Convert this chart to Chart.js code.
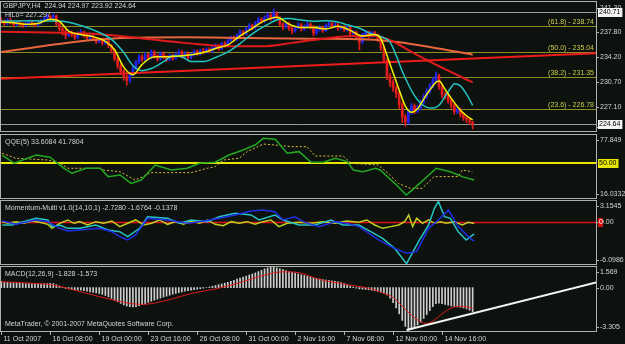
<!DOCTYPE html>
<html>
<head>
<meta charset="utf-8">
<script src="https://cdn.jsdelivr.net/npm/chart.js@4.4.0/dist/chart.umd.min.js"></script>
<style>
  html, body { margin: 0; padding: 0; background: #0e120e; }
  #wrap { position: relative; width: 625px; height: 344px; overflow: hidden; background: #0e120e; }
  canvas { position: absolute; left: 0; }
</style>
</head>
<body>
<div id="wrap">
  <canvas id="mainChart" width="625" height="134" style="top:0px"></canvas>
  <canvas id="qqeChart" width="625" height="66" style="top:134px"></canvas>
  <canvas id="momChart" width="625" height="66" style="top:200px"></canvas>
  <canvas id="macdChart" width="625" height="78" style="top:266px"></canvas>
</div>
<script>
const FONT = '7px "Liberation Sans", Arial, sans-serif';
const BG = '#0e120e';
const FRAME = '#b0b0b0';
const TEXT = '#d4d4d4';
const UP = '#2424f0';
const DOWN = '#e41c1c';

// time axis (bar index -> label)
const timeTicks = [0, 16, 32, 48, 64, 80, 96, 112, 128, 144];
const timeLabels = ['11 Oct 2007', '16 Oct 08:00', '19 Oct 00:00', '23 Oct 16:00', '26 Oct 08:00',
  '31 Oct 00:00', '2 Nov 16:00', '7 Nov 08:00', '12 Nov 00:00', '14 Nov 16:00'];

// GBPJPY H4 candles
const opens = [
  239.6,239.4,239.1,239.6,239.2,238.9,239.3,239.0,238.8,239.1,239.3,239.0,238.9,239.2,239.5,239.8,240.1,239.9,240.2,239.0,
  238.3,238.0,237.4,237.8,237.5,237.1,237.6,237.9,237.4,237.0,237.3,236.9,236.5,236.8,236.3,236.6,235.9,235.2,234.0,233.0,
  232.2,231.4,230.9,231.8,232.6,233.6,234.3,233.9,234.6,234.2,235.0,234.4,234.0,234.8,234.3,233.9,234.5,234.1,234.7,235.0,
  234.4,234.8,234.2,234.6,235.1,234.7,235.2,235.0,235.4,235.1,235.6,235.9,235.5,236.2,236.0,236.6,237.0,236.8,237.4,237.9,
  237.6,238.3,238.8,238.5,239.2,239.7,239.4,240.0,240.3,239.8,240.6,239.9,239.0,238.6,239.1,238.4,238.0,238.5,238.9,238.3,
  238.7,239.0,238.6,237.7,238.2,238.5,238.1,238.8,239.1,238.7,238.9,238.4,238.6,238.2,238.5,237.6,237.9,237.2,236.4,237.5,
  237.9,237.3,237.8,237.4,236.9,235.6,233.8,231.5,230.6,229.8,229.0,227.4,225.6,224.9,226.4,227.2,226.5,226.9,227.8,228.6,
  229.3,230.1,230.9,231.6,230.0,228.9,228.6,228.0,227.3,226.4,226.7,226.0,225.5,225.3,224.94];
const highs = [
  239.9,239.6,239.8,239.9,239.4,239.5,239.5,239.2,239.3,239.6,239.5,239.2,239.4,239.7,240.0,240.4,240.3,240.5,240.3,239.2,
  238.6,238.2,238.1,238.0,237.7,237.9,238.2,238.0,237.6,237.5,237.5,237.1,237.0,237.0,236.9,236.8,236.1,235.4,234.3,233.3,
  232.5,231.7,232.1,232.9,233.8,234.6,234.6,234.9,234.8,235.3,235.2,234.6,235.0,235.0,234.5,234.7,234.7,234.9,235.3,235.2,
  235.0,235.0,234.8,235.3,235.3,235.4,235.5,235.6,235.6,235.8,236.2,236.1,236.4,236.5,236.9,237.3,237.3,237.6,238.2,238.1,
  238.5,239.1,239.0,239.4,240.0,239.9,240.2,240.6,240.5,241.2,240.8,240.1,239.2,239.3,239.3,238.6,238.7,239.2,239.1,238.9,
  239.3,239.2,238.8,238.4,238.8,238.7,239.0,239.4,239.3,239.2,239.1,238.8,238.8,238.7,238.6,238.1,238.0,237.4,237.7,238.1,
  238.0,238.0,238.0,237.6,237.1,235.8,234.0,231.9,231.0,230.1,229.3,227.7,226.0,226.7,227.6,227.5,227.3,228.1,228.9,229.7,
  230.4,231.3,232.1,231.8,230.3,229.2,228.9,228.3,227.5,227.0,226.9,226.2,225.7,225.5,224.97];
const lows = [
  239.1,238.8,238.9,239.0,238.6,238.7,238.8,238.5,238.6,238.9,238.8,238.6,238.7,239.0,239.3,239.6,239.7,239.7,238.8,238.0,
  237.4,236.9,237.2,237.2,236.8,236.9,237.4,237.1,236.7,236.8,236.6,236.2,236.3,236.0,236.1,235.6,234.8,233.7,232.6,231.7,
  230.9,230.2,230.6,231.5,232.4,233.3,233.6,233.7,233.9,234.0,234.1,233.7,233.8,234.0,233.6,233.7,233.8,233.9,234.5,234.1,
  234.2,233.9,234.0,234.4,234.5,234.5,234.7,234.8,234.9,234.9,235.4,235.2,235.3,235.7,235.8,236.4,236.5,236.6,237.2,237.3,
  237.4,238.1,238.2,238.3,239.0,239.1,239.2,239.8,239.5,239.6,239.6,238.7,238.2,238.4,238.1,237.6,237.8,238.3,238.0,238.1,
  238.5,238.3,237.3,237.5,238.0,237.8,237.9,238.6,238.4,238.5,238.1,238.2,237.9,238.0,237.3,237.4,236.9,235.3,236.2,237.3,
  237.0,237.1,237.2,236.5,235.2,233.4,231.0,230.0,229.3,228.4,226.8,224.8,224.3,224.6,226.0,226.1,226.2,226.7,227.5,228.3,
  229.0,229.8,230.6,229.6,228.4,228.2,227.6,226.9,226.0,226.1,225.6,225.1,224.8,224.5,223.92];
const closes = [
  239.4,239.1,239.6,239.2,238.9,239.3,239.0,238.8,239.1,239.3,239.0,238.9,239.2,239.5,239.8,240.1,239.9,240.2,239.0,238.3,
  238.0,237.4,237.8,237.5,237.1,237.6,237.9,237.4,237.0,237.3,236.9,236.5,236.8,236.3,236.6,235.9,235.2,234.0,233.0,232.2,
  231.4,230.9,231.8,232.6,233.6,234.3,233.9,234.6,234.2,235.0,234.4,234.0,234.8,234.3,233.9,234.5,234.1,234.7,235.0,234.4,
  234.8,234.2,234.6,235.1,234.7,235.2,235.0,235.4,235.1,235.6,235.9,235.5,236.2,236.0,236.6,237.0,236.8,237.4,237.9,237.6,
  238.3,238.8,238.5,239.2,239.7,239.4,240.0,240.3,239.8,240.6,239.9,239.0,238.6,239.1,238.4,238.0,238.5,238.9,238.3,238.7,
  239.0,238.6,237.7,238.2,238.5,238.1,238.8,239.1,238.7,238.9,238.4,238.6,238.2,238.5,237.6,237.9,237.2,236.4,237.5,237.9,
  237.3,237.8,237.4,236.9,235.6,233.8,231.5,230.6,229.8,229.0,227.4,225.6,224.9,226.4,227.2,226.5,226.9,227.8,228.6,229.3,
  230.1,230.9,231.6,230.0,228.9,228.6,228.0,227.3,226.4,226.7,226.0,225.5,225.3,224.9,224.64];

// moving averages on the price chart: [bar, price]
const maFast = [[0,239.3],[4,239.2],[8,239.0],[12,239.1],[16,239.7],[19,239.4],[22,238.0],[26,237.5],[30,237.2],[34,236.5],
  [37,235.3],[40,232.8],[43,231.7],[46,233.2],[50,234.3],[54,234.3],[58,234.4],[62,234.6],[66,234.9],[70,235.5],[74,236.0],
  [78,237.3],[82,238.4],[86,239.5],[90,240.0],[94,239.0],[98,238.5],[102,238.5],[106,238.3],[110,238.7],[114,238.1],
  [118,237.3],[122,237.5],[124,236.9],[126,234.5],[128,232.0],[130,229.5],[132,227.2],[134,226.3],[136,226.8],[138,228.2],
  [140,229.5],[142,230.6],[143,230.8],[145,229.6],[147,228.3],[150,226.6],[152,225.8],[154,225.2]];
const maMid = [[0,239.4],[10,239.5],[20,239.4],[26,238.8],[32,237.8],[36,236.8],[40,234.9],[43,233.0],[46,232.3],[49,232.6],
  [53,233.6],[56,234.4],[59,234.3],[62,233.6],[66,233.6],[70,234.2],[74,235.0],[78,236.2],[82,237.6],[86,238.7],[90,239.6],
  [94,239.8],[98,239.6],[102,239.4],[106,239.5],[110,239.3],[113,238.9],[117,238.4],[121,237.6],[124,237.2],[127,236.4],
  [129,234.5],[131,232.2],[133,230.3],[135,228.7],[137,227.6],[139,227.0],[141,226.9],[143,227.3],[145,228.6],[147,229.9],
  [148,230.4],[150,230.1],[152,228.9],[154,227.3]];
const maRed = [[0,237.9],[15,237.8],[30,237.6],[45,237.0],[60,236.3],[75,235.8],[85,235.8],[95,236.3],[105,236.9],
  [115,237.3],[122,237.3],[128,236.5],[134,235.0],[140,233.6],[146,232.3],[154,230.6]];
const maSlow = [[0,235.0],[10,235.6],[20,236.2],[30,236.7],[40,237.0],[60,237.1],[80,237.0],[100,236.9],[120,236.8],
  [130,236.4],[140,235.7],[154,234.6]];
const trendMain = [[-0.4,231.11],[194.4,234.8]];
const fibLevels = [238.74, 235.04, 231.35, 226.78];
const fibNames = ['(61.8) - 238.74', '(50.0) - 235.04', '(38.2) - 231.35', '(23.6) - 226.78'];
const mainTicks = [241.30, 237.80, 234.20, 230.70, 227.10, 223.60];

// QQE(5): [bar, value]
const qqeRsi = [[0.3,58.2],[4.2,50.1],[11.4,58.2],[15.9,56.0],[20.5,45.2],[23.1,40.3],[27.7,45.2],[32.3,45.2],[34.9,37.0],
  [38.8,38.6],[42.4,30.4],[45.7,33.7],[50.3,48.4],[55.5,43.5],[60.7,45.2],[64.7,50.1],[69.9,51.1],[74.4,58.2],[79.0,63.1],
  [82.9,68.0],[85.6,74.6],[89.5,73.6],[93.4,59.9],[97.3,61.5],[101.2,51.1],[105.2,51.1],[109.1,55.0],[113.0,51.7],
  [115.0,43.5],[118.2,41.8],[122.2,45.2],[123.8,43.5],[129.7,27.1],[132.3,19.0],[134.9,25.5],[142.1,45.2],[146.7,41.8],
  [150.6,37.0],[154.5,33.61]];
const qqeTrail = [[0.3,59.9],[4.8,55.0],[15.3,53.3],[19.2,50.1],[21.8,45.2],[32.3,45.2],[33.6,43.5],[38.8,41.8],[43.7,33.7],
  [46.3,37.0],[48.9,40.9],[62.0,40.9],[67.3,45.2],[69.9,46.8],[72.5,53.3],[77.7,55.0],[80.3,61.5],[85.6,69.0],[89.5,68.0],
  [94.7,66.4],[99.9,66.4],[102.5,57.2],[111.7,57.2],[114.3,50.1],[123.1,48.4],[126.4,40.3],[129.7,30.4],[133.6,25.5],
  [137.5,25.5],[141.4,37.0],[149.3,37.0],[150.6,43.5],[153.9,41.78]];

// Momentum-Multi(14,10,1): [bar, value]
const momBlue = [[0.3,0.22],[4.8,-0.27],[11.3,0.37],[15.2,0.12],[19.1,-0.86],[21.7,-1.25],[25.6,-1.10],[32.2,-0.86],
  [36.1,-1.35],[38.7,-2.08],[41.3,-2.57],[43.9,-1.84],[47.8,0.61],[54.3,0.37],[60.8,-0.12],[64.7,0.12],[71.2,0.61],
  [76.4,1.10],[81.6,1.69],[85.5,1.83],[89.4,1.59],[92.0,0.37],[95.9,0.85],[98.6,0.12],[103.8,-0.61],[109.0,0.12],
  [112.9,-0.12],[116.8,-0.61],[123.3,-2.57],[128.5,-3.80],[132.4,-4.53],[135.7,-4.29],[139.6,-0.86],[142.8,0.37],
  [146.1,1.83],[149.3,-0.61],[153.2,-2.33],[154.5,-2.73]];
const momCyan = [[0.3,-0.37],[3.5,-0.37],[11.3,0.61],[15.2,0.37],[16.5,-0.61],[19.1,-0.37],[21.7,-0.86],[25.6,-0.86],
  [30.9,-0.37],[34.8,-1.10],[38.7,-1.35],[41.3,-2.08],[45.2,-0.86],[47.8,0.85],[54.3,0.61],[58.2,-0.12],[62.1,0.37],
  [67.3,0.12],[71.2,0.85],[76.4,1.34],[81.6,1.10],[84.2,0.37],[89.4,1.10],[92.0,0.37],[97.3,-0.37],[102.5,-0.37],
  [107.7,0.37],[111.6,-0.37],[116.8,-0.37],[120.7,-1.35],[124.6,-2.33],[128.5,-3.80],[132.4,-6.05],[136.3,-2.82],
  [139.6,-0.37],[141.5,2.08],[142.8,3.10],[144.8,0.85],[146.7,0.61],[149.3,-1.35],[151.9,-2.57],[154.5,-1.68]];
const momYellow = [[0.3,0.12],[2.2,-0.12],[4.8,0.12],[7.4,-0.12],[10.0,0.22],[12.6,0.02],[15.2,-0.27],[16.5,-0.86],
  [19.1,-0.12],[21.7,0.37],[23.7,-0.12],[25.6,0.12],[28.2,-0.37],[30.9,0.12],[33.5,-0.12],[36.1,0.22],[38.7,-0.61],
  [41.3,-0.12],[43.9,0.37],[46.5,-0.37],[49.1,-0.12],[51.7,0.37],[54.3,-0.27],[56.9,0.12],[59.5,-0.27],[62.1,0.22],
  [64.7,-0.12],[67.3,0.37],[69.9,-0.27],[72.5,-0.47],[75.1,0.12],[77.7,-0.12],[80.3,0.12],[82.9,-0.27],[85.5,0.12],
  [88.1,0.37],[90.7,-0.61],[93.4,-0.12],[97.3,0.02],[101.2,-0.12],[105.1,0.12],[109.0,-0.12],[112.9,0.22],[116.8,0.02],
  [119.4,0.37],[122.0,-0.37],[124.6,-0.86],[127.2,-0.61],[129.8,-0.37],[131.8,0.12],[133.1,1.10],[134.4,-0.61],
  [135.7,0.61],[137.6,-0.12],[139.6,0.37],[141.5,-0.12],[143.5,0.12],[145.4,-0.12],[148.0,0.12],[150.6,-0.37],
  [152.6,0.02],[154.5,-0.14]];

// MACD(12,26,9)
const macdHist = [
  0.45,0.42,0.40,0.38,0.36,0.34,0.33,0.32,0.30,0.30,0.29,0.28,0.28,0.27,0.28,0.30,0.32,
  0.30,0.22,0.12,0.02,-0.06,-0.10,-0.14,-0.16,-0.18,-0.20,
  -0.24,-0.28,-0.32,-0.36,-0.40,-0.45,-0.52,-0.60,-0.70,-0.82,-0.95,-1.08,-1.20,-1.32,-1.40,-1.45,
  -1.48,-1.45,-1.38,-1.30,-1.22,
  -1.12,-1.04,-0.96,-0.88,-0.80,-0.72,-0.65,-0.58,-0.50,-0.44,-0.38,-0.33,-0.28,-0.24,-0.20,
  -0.16,-0.12,-0.08,-0.04,0.00,0.05,0.10,0.16,
  0.22,0.28,0.34,0.40,0.48,0.56,0.64,0.72,0.80,0.88,0.96,1.04,1.12,1.22,1.32,1.42,1.50,1.56,
  1.55,1.50,1.44,1.38,1.30,1.22,1.16,1.10,1.04,0.98,0.92,0.86,0.80,0.74,0.70,
  0.66,0.62,0.58,0.55,0.52,0.48,0.44,0.38,0.30,0.22,
  0.12,0.04,-0.04,-0.10,-0.12,-0.14,-0.16,-0.20,-0.24,-0.28,-0.34,
  -0.40,-0.55,-0.80,-1.15,-1.55,-2.00,-2.50,-2.95,
  -3.25,-3.20,-3.05,-2.85,-2.62,-2.35,-2.05,-1.75,-1.45,
  -1.22,-1.18,-1.22,-1.28,-1.34,-1.40,-1.45,-1.48,-1.50,-1.55,-1.62,-1.72,-1.83];
const macdSignal = [[0,0.44],[8,0.36],[17,0.19],[26,-0.32],[34,-0.8],[42,-1.2],[46,-1.28],[50,-1.18],[56,-0.85],
  [62,-0.45],[70,-0.1],[78,0.38],[86,0.95],[92,1.2],[96,1.18],[104,0.62],[114,0.19],[121,-0.1],[125,-0.44],[128,-0.75],
  [131,-1.4],[134,-2.1],[137,-2.6],[139,-2.73],[141,-2.55],[144,-2.0],[147,-1.55],[150,-1.42],[154,-1.57]];
const macdTrend = [[132.4,-3.23],[194.4,0.39]];

function line(points, color, width, order, tension, dash) {
  return {
    type: 'line',
    data: points.map(([x, y]) => ({x, y})),
    borderColor: color,
    borderWidth: width,
    borderDash: dash || [],
    pointRadius: 0,
    tension: tension || 0,
    cubicInterpolationMode: tension ? 'monotone' : 'default',
    fill: false,
    order: order
  };
}

function baseOptions(yMin, yMax, pad) {
  return {
    responsive: false,
    animation: false,
    devicePixelRatio: 1,
    layout: { padding: pad },
    plugins: { legend: { display: false }, tooltip: { enabled: false } },
    scales: {
      x: { type: 'linear', min: -0.1, max: 194.3, offset: false, display: false },
      y: {
        position: 'right', min: yMin, max: yMax,
        grid: { display: false }, border: { display: false }, ticks: { display: false },
        afterFit(s) { s.width = 29; }
      }
    }
  };
}

// frame, right price scale, level lines and captions of one window
function panel(cfg) {
  return {
    id: 'panel',
    beforeDraw(chart) {
      const c = chart.ctx;
      c.save();
      c.fillStyle = BG;
      c.fillRect(0, 0, chart.width, chart.height);
      c.restore();
    },
    beforeDatasetsDraw(chart) {
      const {ctx: c, chartArea: a, scales: {y}} = chart;
      c.save();
      (cfg.levels || []).forEach(l => {
        const py = Math.round(y.getPixelForValue(l.value)) + (l.width % 2 ? 0.5 : 0);
        c.strokeStyle = l.color;
        c.lineWidth = l.width;
        c.beginPath();
        c.moveTo(a.left, py);
        c.lineTo(a.right, py);
        c.stroke();
        if (l.label) {
          c.font = FONT;
          c.fillStyle = l.textColor;
          c.textAlign = 'right';
          c.textBaseline = 'bottom';
          c.fillText(l.label, a.right - 2, py - 1);
        }
      });
      c.restore();
    },
    afterDraw(chart) {
      const {ctx: c, chartArea: a, scales: {x, y}} = chart;
      c.save();
      c.strokeStyle = FRAME;
      c.lineWidth = 1;
      c.strokeRect(a.left - 0.5, a.top - 0.5, a.right - a.left + 1, a.bottom - a.top + 1);
      c.font = FONT;
      c.textBaseline = 'middle';
      c.textAlign = 'left';
      cfg.ticks.forEach((v, k) => {
        const py = Math.round(Math.min(Math.max(y.getPixelForValue(v), a.top + 5), a.bottom - 4));
        c.beginPath();
        c.moveTo(a.right, py + 0.5);
        c.lineTo(a.right + 3, py + 0.5);
        c.stroke();
        c.fillStyle = TEXT;
        c.fillText(cfg.tickText[k], a.right + 4, py);
      });
      (cfg.boxes || []).forEach(b => {
        const py = Math.round(y.getPixelForValue(b.value));
        const w = b.w || c.measureText(b.text).width + 3;
        c.fillStyle = b.bg;
        c.fillRect(a.right + 2, py - 4, w, 9);
        c.fillStyle = b.fg;
        c.fillText(b.text, a.right + 3, py);
      });
      (cfg.titles || []).forEach(t => {
        c.fillStyle = TEXT;
        c.fillText(t.text, t.x, t.y);
      });
      if (cfg.timeAxis) {
        timeTicks.forEach((t, k) => {
          const px = Math.round(x.getPixelForValue(t)) + 0.5;
          c.strokeStyle = FRAME;
          c.beginPath();
          c.moveTo(px, a.bottom);
          c.lineTo(px, a.bottom + 4);
          c.stroke();
          c.fillStyle = TEXT;
          c.fillText(timeLabels[k], px + 2, a.bottom + 8);
        });
      }
      c.restore();
    }
  };
}

const candleColor = ctx => closes[ctx.dataIndex] >= opens[ctx.dataIndex] ? UP : DOWN;

new Chart(document.getElementById('mainChart'), {
  type: 'bar',
  data: {
    datasets: [
      line(maFast, '#f2f200', 1.5, 1, 0.4),
      line(maMid, '#22c4c4', 1.5, 2, 0.4),
      line(trendMain, '#f01c1c', 2, 3),
      line(maRed, '#e01a1a', 2, 4, 0.4),
      line(maSlow, '#e8663e', 2, 5, 0.4),
      {
        type: 'bar', order: 9, grouped: false, barThickness: 2, minBarLength: 1,
        data: closes.map((v, i) => ({x: i, y: [Math.min(opens[i], v), Math.max(opens[i], v)]})),
        backgroundColor: candleColor
      },
      {
        type: 'bar', order: 10, grouped: false, barThickness: 1,
        data: closes.map((v, i) => ({x: i, y: [lows[i], highs[i]]})),
        backgroundColor: candleColor
      }
    ]
  },
  options: baseOptions(223.6, 242.19, {left: 1, top: 2, bottom: 3, right: 0}),
  plugins: [panel({
    ticks: mainTicks,
    tickText: mainTicks.map(v => v.toFixed(2)),
    levels: fibLevels.map((v, k) => ({value: v, color: '#8e8e26', width: 1, label: fibNames[k], textColor: '#cccc50'}))
      .concat([{value: 240.71, color: '#9a9a9a', width: 1}, {value: 224.64, color: '#9a9a9a', width: 1}]),
    boxes: [
      {value: 240.71, text: '240.71', bg: '#f4f4f4', fg: '#000000'},
      {value: 224.64, text: '224.64', bg: '#f4f4f4', fg: '#000000'}
    ],
    titles: [
      {text: 'GBPJPY,H4  224.94 224.97 223.92 224.64', x: 3, y: 6},
      {text: 'HiLo= 227.297', x: 5, y: 15}
    ]
  })]
});

new Chart(document.getElementById('qqeChart'), {
  type: 'line',
  data: {
    datasets: [
      line(qqeRsi, '#22a822', 1.5, 1),
      line(qqeTrail, '#d8c040', 1, 2, 0, [2, 2])
    ]
  },
  options: baseOptions(16.0332, 77.849, {left: 1, top: 1, bottom: 2, right: 0}),
  plugins: [panel({
    ticks: [77.849, 16.0332],
    tickText: ['77.849', '16.0332'],
    levels: [{value: 50, color: '#e6e600', width: 2}],
    boxes: [{value: 50, text: '50.00', bg: '#e6e600', fg: '#000000'}],
    titles: [{text: 'QQE(5) 33.6084 41.7804', x: 5, y: 8}]
  })]
});

new Chart(document.getElementById('momChart'), {
  type: 'line',
  data: {
    datasets: [
      line(momYellow, '#bcd024', 1.5, 3),
      line(momCyan, '#26c4c4', 1.5, 2),
      line(momBlue, '#2030e8', 1.5, 1)
    ]
  },
  options: baseOptions(-6.0986, 3.1545, {left: 1, top: 1, bottom: 2, right: 0}),
  plugins: [panel({
    ticks: [3.1545, -6.0986, 0],
    tickText: ['3.1545', '-6.0986', '0.00'],
    levels: [{value: 0, color: '#e01010', width: 1.5}],
    boxes: [{value: 0, text: '0', bg: '#e01010', fg: '#ffffff', w: 5}],
    titles: [{text: 'Momentum-Multi v1.0(14,10,1) -2.7280 -1.6764 -0.1378', x: 5, y: 8}]
  })]
});

new Chart(document.getElementById('macdChart'), {
  type: 'bar',
  data: {
    datasets: [
      line(macdTrend, '#f4f4f4', 2, 1),
      line(macdSignal, '#e01a1a', 1, 2, 0.4),
      {
        type: 'bar', order: 5, grouped: false, barThickness: 1,
        data: macdHist.map((v, i) => ({x: i, y: v})),
        backgroundColor: '#cfcfcf'
      }
    ]
  },
  options: baseOptions(-3.305, 1.569, {left: 1, top: 1, bottom: 13, right: 0}),
  plugins: [panel({
    ticks: [1.569, 0, -3.305],
    tickText: ['1.569', '0.00', '-3.305'],
    titles: [
      {text: 'MACD(12,26,9) -1.828 -1.573', x: 5, y: 8},
      {text: 'MetaTrader, \u00a9 2001-2007 MetaQuotes Software Corp.', x: 5, y: 58}
    ],
    timeAxis: true
  })]
});
</script>
</body>
</html>
